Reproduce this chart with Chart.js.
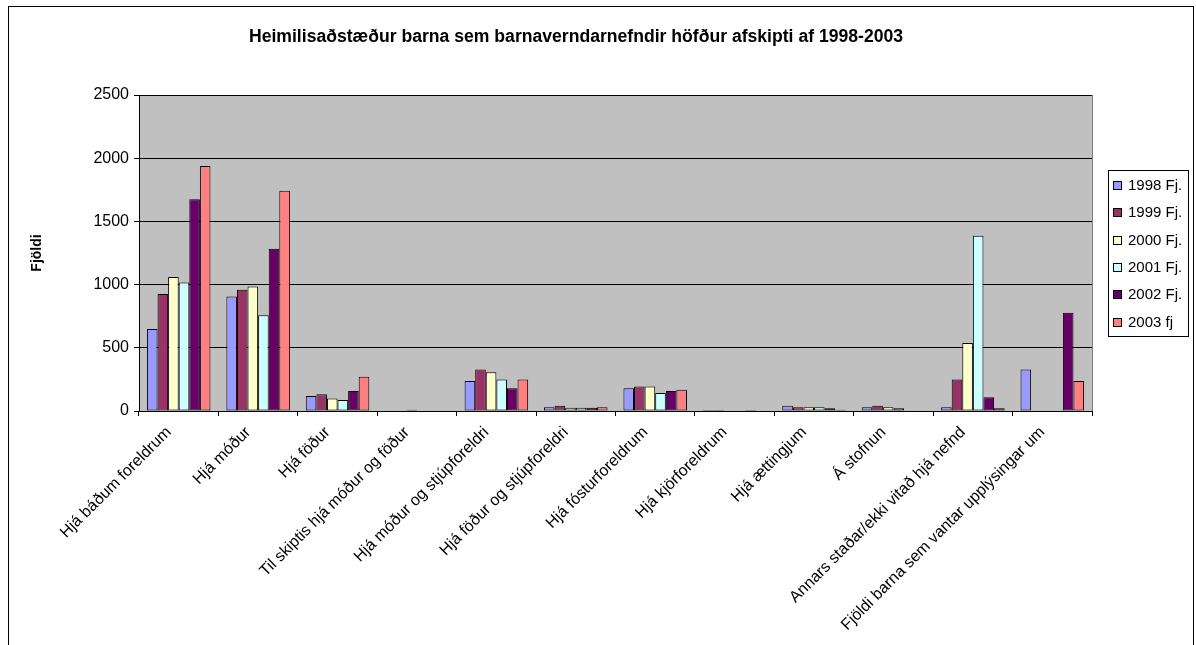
<!DOCTYPE html>
<html>
<head>
<meta charset="utf-8">
<title>Heimilisaðstæður barna</title>
<script src="https://cdn.jsdelivr.net/npm/chart.js@4/dist/chart.umd.min.js"></script>
<style>
  html, body { margin: 0; padding: 0; background: #fff; }
  canvas { display: block; }
</style>
</head>
<body>
<canvas id="chart" width="1196" height="645"></canvas>
<script>
'use strict';
// data
var categories = ['Hjá báðum foreldrum', 'Hjá móður', 'Hjá föður', 'Til skiptis hjá móður og föður',
  'Hjá móður og stjúpforeldri', 'Hjá föður og stjúpforeldri', 'Hjá fósturforeldrum', 'Hjá kjörforeldrum',
  'Hjá ættingjum', 'Á stofnun', 'Annars staðar/ekki vitað hjá nefnd', 'Fjöldi barna sem vantar upplýsingar um'];
var seriesNames = ['1998 Fj.', '1999 Fj.', '2000 Fj.', '2001 Fj.', '2002 Fj.', '2003 fj'];
var y1998 = [648, 905, 119, 0, 238, 29, 180, 8, 42, 29, 29, 328];
var y1999 = [926, 960, 132, 0, 328, 42, 193, 8, 29, 42, 249, 0];
var y2000 = [1061, 984, 98, 10, 307, 26, 193, 0, 29, 29, 537, 0];
var y2001 = [1016, 757, 87, 0, 249, 26, 143, 0, 29, 21, 1386, 0];
var y2002 = [1675, 1283, 159, 0, 180, 26, 159, 8, 21, 0, 108, 778];
var y2003 = [1939, 1743, 270, 0, 249, 29, 169, 0, 10, 0, 21, 238];
var yTicks = [0, 500, 1000, 1500, 2000, 2500];

var seriesValues = [y1998, y1999, y2000, y2001, y2002, y2003];
var colors = ['#9999FF', '#993366', '#FFFFCC', '#CCFFFF', '#660066', '#FF8080'];
var fontFamily = '"Liberation Sans", Arial, sans-serif';

var datasets = [];
for (var i = 0; i < seriesNames.length; i++) {
  datasets.push({
    label: seriesNames[i],
    data: seriesValues[i],
    backgroundColor: colors[i],
    borderColor: '#000',
    borderWidth: 1,
    borderSkipped: false,
    barPercentage: 1.0,
    categoryPercentage: 0.8
  });
}

// background, frame, title and legend box like the excel chart
var excelLook = {
  id: 'excelLook',
  beforeDraw: function(chart) {
    var ctx = chart.ctx;
    var a = chart.chartArea;
    ctx.save();
    ctx.fillStyle = '#fff';
    ctx.fillRect(0, 0, chart.width, chart.height);
    ctx.strokeStyle = '#000';
    ctx.lineWidth = 1;
    ctx.strokeRect(8.5, 6.5, 1185, 700);
    ctx.fillStyle = '#C0C0C0';
    ctx.fillRect(a.left, a.top, a.right - a.left, a.bottom - a.top);
    ctx.strokeStyle = '#808080';
    ctx.strokeRect(Math.round(a.left) + 0.5, Math.round(a.top) + 0.5, Math.round(a.right - a.left), Math.round(a.bottom - a.top));
    ctx.restore();
  },
  afterDraw: function(chart) {
    var ctx = chart.ctx;
    ctx.save();
    // title
    ctx.fillStyle = '#000';
    ctx.font = 'bold 17.6px ' + fontFamily;
    ctx.textAlign = 'center';
    ctx.textBaseline = 'middle';
    ctx.fillText('Heimilisaðstæður barna sem barnaverndarnefndir höfður afskipti af 1998-2003', 576, 37);
    // legend
    ctx.strokeStyle = '#000';
    ctx.lineWidth = 1;
    ctx.strokeRect(1108.5, 170.5, 80, 166);
    ctx.font = '15px ' + fontFamily;
    ctx.textAlign = 'left';
    var ds = chart.data.datasets;
    for (var k = 0; k < ds.length; k++) {
      var y = Math.round(185 + k * 27.3);
      ctx.fillStyle = ds[k].backgroundColor;
      ctx.fillRect(1113, y - 4, 9, 9);
      ctx.strokeRect(1113.5, y - 3.5, 8, 8);
      ctx.fillStyle = '#000';
      ctx.fillText(ds[k].label, 1128, y + 1);
    }
    ctx.restore();
  }
};

var chart = new Chart(document.getElementById('chart').getContext('2d'), {
  type: 'bar',
  data: {
    labels: categories,
    datasets: datasets
  },
  options: {
    responsive: false,
    animation: false,
    devicePixelRatio: 1,
    layout: { padding: { left: 9, top: 95, right: 104, bottom: 0 } },
    plugins: {
      legend: { display: false },
      title: { display: false },
      tooltip: { enabled: false }
    },
    scales: {
      x: {
        grid: { display: true, drawOnChartArea: false, offset: true, tickLength: 5, color: '#000' },
        border: { color: '#000' },
        ticks: {
          color: '#000',
          font: { family: fontFamily, size: 16 },
          autoSkip: false,
          maxRotation: 45,
          minRotation: 45,
          padding: 7,
          labelOffset: -10
        },
        afterFit: function(scale) { scale.height = 234; }
      },
      y: {
        min: 0,
        max: 2500,
        afterBuildTicks: function(scale) {
          scale.ticks = yTicks.map(function(v) { return { value: v }; });
        },
        grid: { color: '#000', tickLength: 5 },
        border: { color: '#000' },
        ticks: {
          color: '#000',
          font: { family: fontFamily, size: 16 },
          padding: 5,
          callback: function(value) { return String(value); }
        },
        title: {
          display: true,
          text: 'Fjöldi',
          color: '#000',
          font: { family: fontFamily, size: 14, weight: 'bold' },
          padding: { top: 20 }
        },
        afterFit: function(scale) { scale.width = 130; }
      }
    }
  },
  plugins: [excelLook]
});
</script>
</body>
</html>
